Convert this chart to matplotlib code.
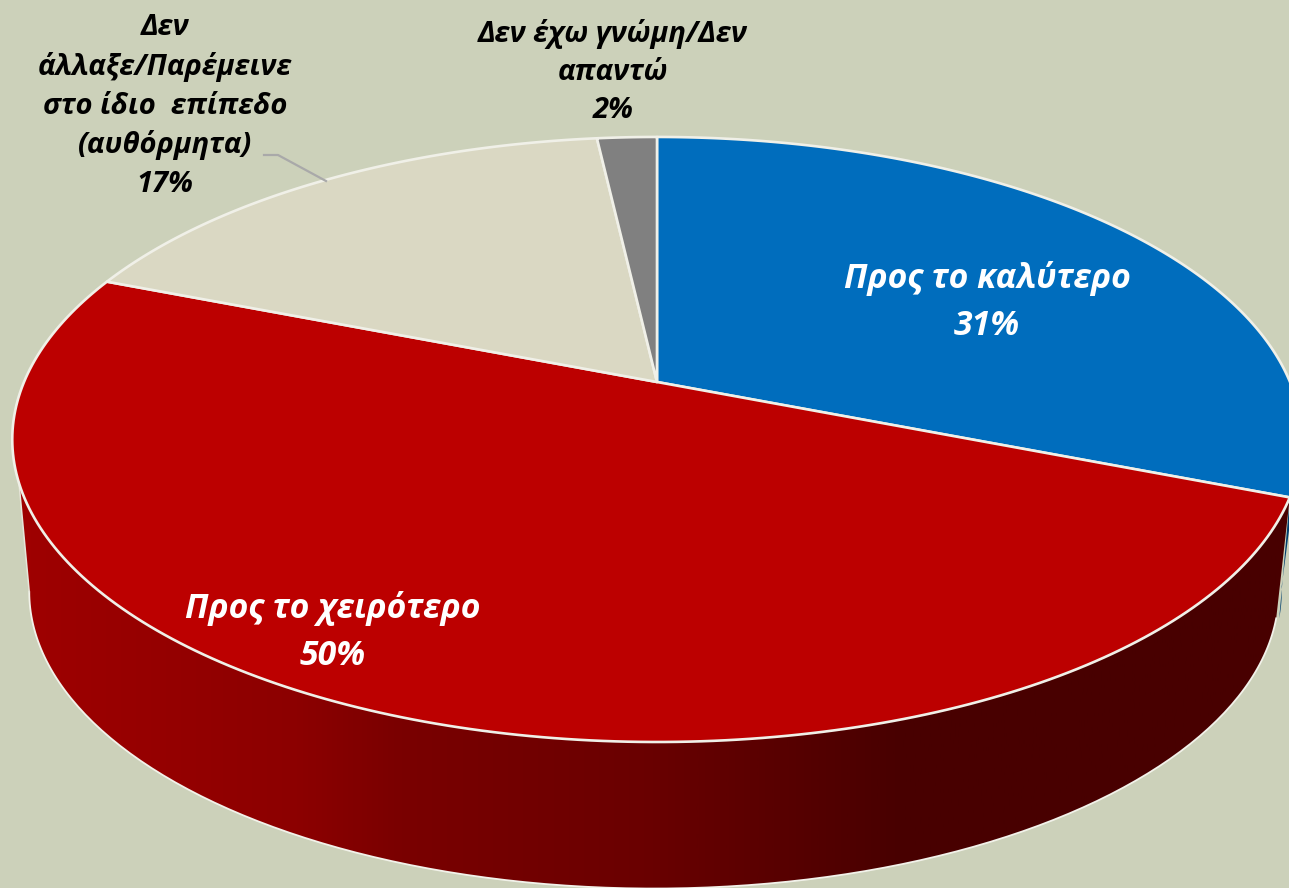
import numpy as np
import matplotlib
matplotlib.use('Agg')
import matplotlib.pyplot as plt
from matplotlib.colors import LinearSegmentedColormap
from matplotlib.patches import Polygon

labels = ['Προς το καλύτερο\n31%', 'Προς το χειρότερο\n50%',
          'Δεν\nάλλαξε/Παρέμεινε\nστο ίδιο  επίπεδο\n(αυθόρμητα)\n17%',
          'Δεν έχω γνώμη/Δεν\nαπαντώ\n2%']
# slices as measured on the picture, the labels carry the rounded figures
values = [31, 50, 17.2, 1.8]
colors = ['#006dbd', '#bc0000', '#dad8c3', '#808080']

plt.rcParams['font.family'] = ['Open Sans', 'Noto Sans', 'DejaVu Sans']

W, H = 1289, 888
BG = '#ccd1ba'

# pie centre, perspective of the tilted disc
CX, CY = 657, 382
A, B, K = 633, 291.6, 0.19
MID_Y = 440
DROP = 152


def rim(theta):
    # theta in degrees, clockwise from 12 o'clock
    t = np.radians(theta)
    x, y = np.sin(t), np.cos(t)
    s = 1 / (1 + K * y)
    return CX + A * x * s, CY - B * y * s


def low_rim(theta):
    x, y = rim(theta)
    return 654 + (x - CX) * 0.969, MID_Y + DROP + (y - MID_Y) * 0.982


fig = plt.figure(figsize=(W / 100, H / 100), dpi=100, facecolor=BG)
ax = fig.add_axes([0, 0, 1, 1])
ax.set_xlim(0, W)
ax.set_ylim(H, 0)
ax.axis('off')

edges = np.concatenate([[0], np.cumsum(values)]) * 3.6

# side wall: blue sliver at the right, then the red one with its gradient
t1 = np.linspace(100, edges[1], 40)
xa, ya = rim(t1)
t2 = np.linspace(106, 100, 20)
xb, yb = low_rim(t2)
ax.add_patch(Polygon(np.r_[np.c_[xa, ya], np.c_[xb + 3, yb]], fc='#003f6e', ec='none', zorder=1))

t_top = np.linspace(edges[1], 251, 200)
t_low = np.linspace(259, 106, 200)
xa, ya = rim(t_top)
xb, yb = low_rim(t_low)
wall_xy = np.r_[np.c_[xa, ya], np.c_[xb, yb]]
wall = Polygon(wall_xy, fc='none', ec='none', zorder=2)
ax.add_patch(wall)
cmap = LinearSegmentedColormap.from_list('wall', [
    (0, '#a00000'), (0.23, '#8c0000'), (0.31, '#7a0000'), (0.5, '#6a0000'), (0.7, '#480000'), (1, '#480000')])
im = ax.imshow(np.linspace(0, 1, 512)[None, :], extent=(0, W, H, 0), cmap=cmap, aspect='auto', zorder=2)
im.set_clip_path(wall)
ax.plot(xb, yb, color='#f2f2ea', lw=1.3, zorder=3)
ax.plot([xa[-1], xb[0]], [ya[-1], yb[0]], color='#e6e6da', lw=1.1, zorder=3)

# top of the pie
for i in range(len(values)):
    t = np.linspace(edges[i], edges[i + 1], 200)
    x, y = rim(t)
    xy = np.r_[[[CX, CY]], np.c_[x, y]]
    ax.add_patch(Polygon(xy, fc=colors[i], ec='#f0f0e8', lw=1.9, joinstyle='round', zorder=4))

ax.plot([264, 278, 326], [155, 155, 181], color='#a9a9a9', lw=1.6, zorder=5)

ax.text(987, 302, labels[0], color='white', fontsize=24.3, fontweight='bold', style='italic',
        ha='center', va='center', linespacing=1.5, zorder=6)
ax.text(333, 632, labels[1], color='white', fontsize=24.3, fontweight='bold', style='italic',
        ha='center', va='center', linespacing=1.5, zorder=6)
ax.text(165, 106, labels[2], color='black', fontsize=21, fontweight='bold', style='italic',
        ha='center', va='center', linespacing=1.43, zorder=6)
ax.text(613, 72, labels[3], color='black', fontsize=21, fontweight='bold', style='italic',
        ha='center', va='center', linespacing=1.43, zorder=6)

plt.savefig('out.png', dpi=100, facecolor=BG)
